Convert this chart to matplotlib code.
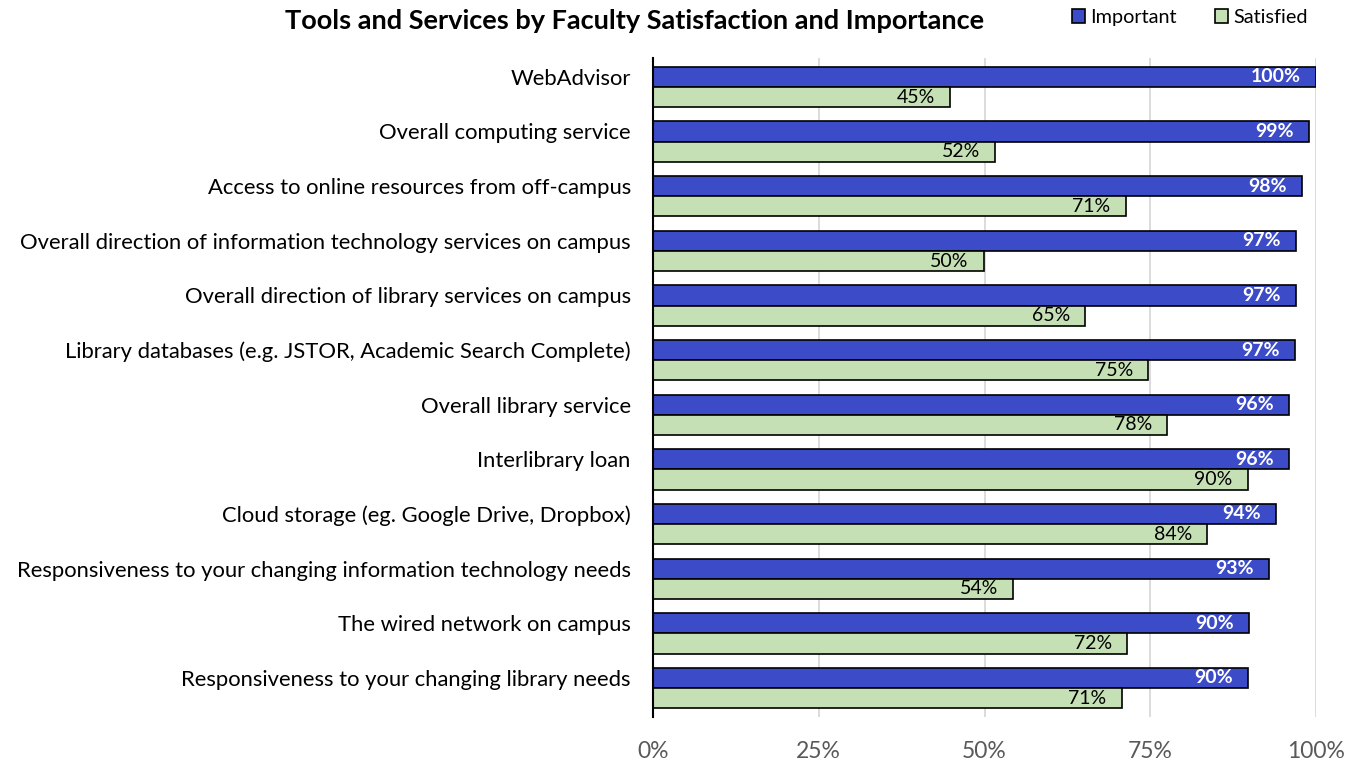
import matplotlib.pyplot as plt
import numpy as np
from matplotlib.patches import Patch
from matplotlib.ticker import FuncFormatter

categories = [
    'WebAdvisor',
    'Overall computing service',
    'Access to online resources from off-campus',
    'Overall direction of information technology services on campus',
    'Overall direction of library services on campus',
    'Library databases (e.g. JSTOR, Academic Search Complete)',
    'Overall library service',
    'Interlibrary loan',
    'Cloud storage (eg. Google Drive, Dropbox)',
    'Responsiveness to your changing information technology needs',
    'The wired network on campus',
    'Responsiveness to your changing library needs',
]
important = [100, 98.9, 97.9, 97.0, 97.0, 96.8, 95.9, 95.9, 94.0, 92.9, 89.9, 89.7]
satisfied = [44.8, 51.6, 71.3, 49.9, 65.2, 74.7, 77.6, 89.7, 83.6, 54.3, 71.5, 70.7]

BLUE = '#3c4bc8'
GREEN = '#c5e0b4'

plt.rcParams['font.family'] = ['Lato', 'DejaVu Sans']

fig = plt.figure(figsize=(13.56, 7.64), dpi=100)
ax = fig.add_axes([653 / 1356, 1 - 717 / 764, 663 / 1356, 659 / 764])

y = np.arange(len(categories))
h = 0.37
off = 0.185
ax.barh(y - off, important, height=h, color=BLUE, edgecolor='black', linewidth=1.2, zorder=3)
ax.barh(y + off, satisfied, height=h, color=GREEN, edgecolor='black', linewidth=1.2, zorder=3)

for yi, v in zip(y, important):
    ax.text(v - 2.3, yi - off, f'{round(v):.0f}%', ha='right', va='center',
            color='white', fontweight='bold', fontsize=14, zorder=4)
for yi, v in zip(y, satisfied):
    ax.text(v - 2.3, yi + off, f'{round(v):.0f}%', ha='right', va='center',
            color='black', fontsize=14, zorder=4)

ax.set_xlim(0, 100)
ax.set_ylim(len(categories) - 0.47, -0.53)
ax.set_xticks([0, 25, 50, 75, 100])
ax.xaxis.set_major_formatter(FuncFormatter(lambda v, p: f'{v:.0f}%'))
ax.set_yticks(y - off)
ax.set_yticklabels(categories)
ax.tick_params(axis='y', length=0, pad=16, labelsize=15.8, labelcolor='black')
ax.tick_params(axis='x', length=0, pad=17, labelsize=16.5, labelcolor='#595959')
ax.grid(axis='x', color='#d9d9d9', linewidth=1.3, zorder=0)
for s in ['top', 'right', 'bottom']:
    ax.spines[s].set_visible(False)
ax.spines['left'].set_linewidth(1.5)
ax.spines['left'].set_zorder(5)

fig.text(0.468, 0.972, 'Tools and Services by Faculty Satisfaction and Importance',
         ha='center', va='center', fontsize=19.5, fontweight='bold')

handles = [Patch(facecolor=BLUE, edgecolor='black', linewidth=1.2, label='Important'),
           Patch(facecolor=GREEN, edgecolor='black', linewidth=1.2, label='Satisfied')]
fig.legend(handles=handles, loc='center', bbox_to_anchor=(0.8775, 0.977), ncol=2,
           frameon=False, fontsize=14.3, handlelength=0.65, handleheight=0.65,
           handletextpad=0.3, columnspacing=1.9)

fig.savefig('out.png', dpi=100)
